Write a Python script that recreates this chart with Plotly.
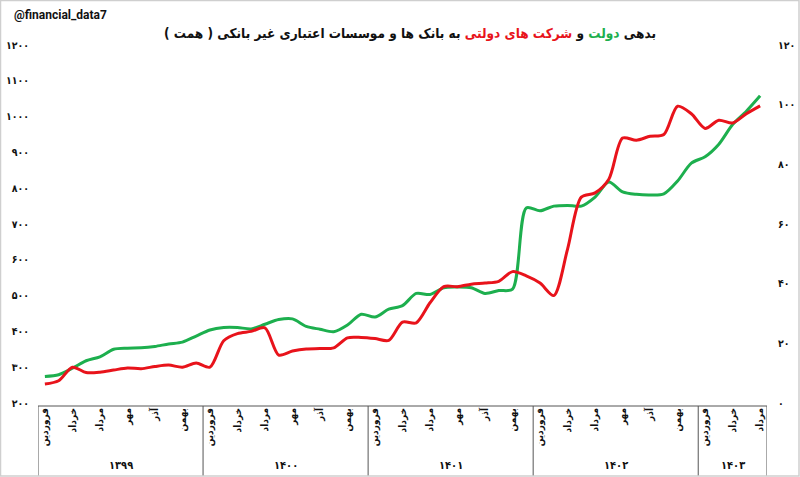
import plotly.graph_objects as go

# ---- data (monthly, Farvardin 1399 .. Mordad 1403) ----
years = ["۱۳۹۹", "۱۴۰۰", "۱۴۰۱", "۱۴۰۲", "۱۴۰۳"]
months_per_year = [12, 12, 12, 12, 5]
month_names = ["فروردین", "خرداد", "مرداد", "مهر", "آذر", "بهمن"]

government = [274, 279, 297, 318, 329, 350, 353, 354, 358, 365, 370, 387,
              404, 411, 411, 407, 420, 433, 435, 414, 406, 399, 418, 448,
              440, 462, 472, 506, 503, 522, 524, 522, 506, 514, 518, 745,
              737, 750, 752, 750, 775, 817, 790, 783, 781, 784, 820, 870,
              888, 923, 978, 1015, 1058]
state_companies = [253, 262, 300, 285, 286, 292, 298, 296, 302, 306, 300, 312,
                   300, 374, 394, 400, 410, 334, 345, 351, 352, 354, 382, 383,
                   380, 375, 426, 424, 480, 525, 525, 532, 535, 540, 567, 555,
                   535, 500, 630, 775, 787, 825, 940, 934, 945, 950, 1029, 1008,
                   967, 990, 982, 1008, 1030]

left_ticks = [200, 300, 400, 500, 600, 700, 800, 900, 1000, 1100, 1200]
left_labels = ["۲۰۰", "۳۰۰", "۴۰۰", "۵۰۰", "۶۰۰", "۷۰۰", "۸۰۰", "۹۰۰", "۱۰۰۰", "۱۱۰۰", "۱۲۰۰"]
right_ticks = [0, 20, 40, 60, 80, 100, 120]
right_labels = ["۰", "۲۰", "۴۰", "۶۰", "۸۰", "۱۰۰", "۱۲۰"]

title_text = ("\u200fبدهی <span style='color:#1DAF4E'>دولت</span> و "
              "<span style='color:#E8131B'>شرکت های دولتی</span> "
              "به بانک ها و موسسات اعتباری غیر بانکی ( همت )\u200f")
watermark = "@financial_data7"

# ---- derived positions ----
n = len(government)
xs = list(range(n))
tickvals, ticktext = [], []
start = 0
bounds = [-0.5]
year_centers = []
for ny in months_per_year:
    for k in range(0, ny, 2):
        tickvals.append(start + k)
        ticktext.append(month_names[k // 2])
    year_centers.append(start + (ny - 1) / 2)
    start += ny
    bounds.append(start - 0.5)

GREEN = "#1DAF4E"
RED = "#E8131B"
FONT = "DejaVu Sans Condensed, DejaVu Sans"

fig = go.Figure()
fig.add_trace(go.Scatter(x=xs, y=government, mode="lines",
                         line=dict(color=GREEN, width=3, shape="spline", smoothing=0.8),
                         name="دولت", hoverinfo="skip"))
fig.add_trace(go.Scatter(x=xs, y=state_companies, mode="lines",
                         line=dict(color=RED, width=3, shape="spline", smoothing=0.8),
                         name="شرکت های دولتی", hoverinfo="skip"))
# invisible trace to activate right axis
fig.add_trace(go.Scatter(x=[xs[0]], y=[0], yaxis="y2", mode="markers",
                         marker=dict(opacity=0), showlegend=False, hoverinfo="skip"))

L, R, T, B = 38, 33, 45, 74
W, H = 800, 477
pw, ph = W - L - R, H - T - B

def py(pix):
    return (H - B - pix) / ph

def px(pix):
    return (pix - L) / pw

shapes = []
box_top = py(406)
box_bot = py(476)
shapes.append(dict(type="line", xref="x", yref="paper", x0=bounds[0], x1=bounds[-1],
                   y0=box_top, y1=box_top, line=dict(color="#555555", width=1)))
for b in bounds:
    shapes.append(dict(type="line", xref="x", yref="paper", x0=b, x1=b,
                       y0=box_top, y1=box_bot, line=dict(color="#555555", width=1)))
# outer frame
shapes.append(dict(type="rect", xref="paper", yref="paper",
                   x0=px(0.5), x1=px(799), y0=py(476), y1=py(0.5),
                   line=dict(color="#cfcfcf", width=1.5)))

annotations = []
for yc, yl in zip(year_centers, years):
    annotations.append(dict(x=yc, xref="x", y=py(465), yref="paper", text=yl,
                            showarrow=False, xanchor="center", yanchor="middle",
                            font=dict(family=FONT, size=11, color="#111111", weight="bold")))
annotations.append(dict(x=px(12), xref="paper", y=py(15), yref="paper", text=watermark,
                        showarrow=False, xanchor="left", yanchor="middle",
                        font=dict(family="Roboto, Arial", size=12, color="#111111", weight="bold")))

fig.update_layout(
    width=W, height=H,
    margin=dict(l=L, r=R, t=T, b=B, autoexpand=False),
    paper_bgcolor="white", plot_bgcolor="white",
    showlegend=False,
    title=dict(text=title_text, x=410 / W, xref="container", xanchor="center",
               y=1 - 33 / H, yref="container", yanchor="middle",
               font=dict(family=FONT, size=13.5, color="#111111", weight="bold")),
    xaxis=dict(range=[bounds[0], bounds[-1]], tickvals=tickvals, ticktext=ticktext,
               tickangle=-90, showgrid=False, zeroline=False, showline=False, ticks="",
               ticklabelstandoff=2,
               tickfont=dict(family=FONT, size=10, color="#111111", weight="bold")),
    yaxis=dict(range=[200, 1200], tickvals=left_ticks, ticktext=left_labels,
               showgrid=False, zeroline=False, showline=False, ticks="",
               ticklabelstandoff=8,
               tickfont=dict(family=FONT, size=10.5, color="#111111", weight="bold")),
    yaxis2=dict(range=[0, 120], tickvals=right_ticks, ticktext=right_labels,
                overlaying="y", side="right", showgrid=False, zeroline=False,
                showline=False, ticks="", ticklabelstandoff=10,
                tickfont=dict(family=FONT, size=10.5, color="#111111", weight="bold")),
    shapes=shapes, annotations=annotations,
)

fig.write_html("out.html", config={"displayModeBar": False},
               post_script="document.body.style.margin='0';document.body.style.overflow='hidden';")
